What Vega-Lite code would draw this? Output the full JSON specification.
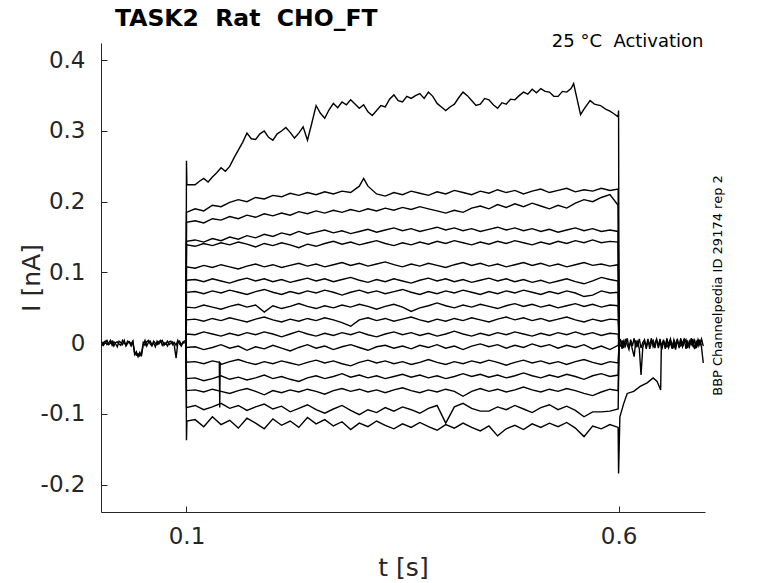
{
"$schema": "https://vega.github.io/schema/vega-lite/v6.json",
"width": 604, "height": 469,
"autosize": {"type": "none"},
"padding": {"left": 101, "top": 43, "right": 73, "bottom": 71},
"background": "white",
"config": {"view": {"stroke": null}, "font": "DejaVu Sans"},
"title": {"text": "TASK2\u00a0\u00a0Rat\u00a0\u00a0CHO_FT", "anchor": "start", "frame": "group", "fontSize": 23.5, "fontWeight": "bold", "font": "DejaVu Sans", "color": "#000000", "dx": 14, "offset": -16, "baseline": "alphabetic"},
"resolve": {"axis": {"y": "independent"}},
"layer": [
{
"data": {"values": [
{"s":"q1","t":0.002,"i":0.002},{"s":"q1","t":0.004,"i":-0.003},{"s":"q1","t":0.006,"i":0.001},{"s":"q1","t":0.008,"i":0.004},{"s":"q1","t":0.010,"i":-0.002},{"s":"q1","t":0.012,"i":0.000},{"s":"q1","t":0.014,"i":0.003},{"s":"q1","t":0.016,"i":-0.004},{"s":"q1","t":0.018,"i":0.001},{"s":"q1","t":0.020,"i":0.002},{"s":"q1","t":0.022,"i":-0.001},{"s":"q1","t":0.024,"i":-0.003},{"s":"q1","t":0.026,"i":0.004},{"s":"q1","t":0.028,"i":0.000},{"s":"q1","t":0.030,"i":-0.002},{"s":"q1","t":0.032,"i":0.003},{"s":"q1","t":0.034,"i":0.001},{"s":"q1","t":0.036,"i":-0.004},{"s":"q1","t":0.038,"i":0.002},{"s":"q1","t":0.040,"i":-0.013},{"s":"q1","t":0.042,"i":-0.017},{"s":"q1","t":0.044,"i":-0.015},{"s":"q1","t":0.046,"i":-0.018},{"s":"q1","t":0.048,"i":-0.014},{"s":"q1","t":0.050,"i":0.001},{"s":"q1","t":0.052,"i":-0.003},{"s":"q1","t":0.054,"i":0.002},{"s":"q1","t":0.056,"i":0.004},{"s":"q1","t":0.058,"i":-0.001},{"s":"q1","t":0.060,"i":-0.004},{"s":"q1","t":0.062,"i":0.003},{"s":"q1","t":0.064,"i":0.000},{"s":"q1","t":0.066,"i":-0.002},{"s":"q1","t":0.068,"i":0.002},{"s":"q1","t":0.070,"i":0.004},{"s":"q1","t":0.072,"i":-0.003},{"s":"q1","t":0.074,"i":0.001},{"s":"q1","t":0.076,"i":-0.001},{"s":"q1","t":0.078,"i":0.003},{"s":"q1","t":0.080,"i":-0.002},{"s":"q1","t":0.082,"i":0.000},{"s":"q1","t":0.084,"i":0.002},{"s":"q1","t":0.086,"i":-0.004},{"s":"q1","t":0.088,"i":-0.021},{"s":"q1","t":0.090,"i":0.001},{"s":"q1","t":0.092,"i":0.003},{"s":"q1","t":0.094,"i":-0.002},{"s":"q1","t":0.096,"i":0.000},{"s":"q1","t":0.098,"i":0.004},
{"s":"q2","t":0.002,"i":-0.004},{"s":"q2","t":0.004,"i":0.001},{"s":"q2","t":0.006,"i":0.003},{"s":"q2","t":0.008,"i":-0.002},{"s":"q2","t":0.010,"i":0.000},{"s":"q2","t":0.012,"i":0.004},{"s":"q2","t":0.014,"i":-0.003},{"s":"q2","t":0.016,"i":0.002},{"s":"q2","t":0.018,"i":-0.001},{"s":"q2","t":0.020,"i":-0.005},{"s":"q2","t":0.022,"i":0.003},{"s":"q2","t":0.024,"i":0.001},{"s":"q2","t":0.026,"i":-0.002},{"s":"q2","t":0.028,"i":0.004},{"s":"q2","t":0.030,"i":-0.004},{"s":"q2","t":0.032,"i":0.000},{"s":"q2","t":0.034,"i":0.002},{"s":"q2","t":0.036,"i":-0.001},{"s":"q2","t":0.038,"i":0.003},{"s":"q2","t":0.040,"i":-0.016},{"s":"q2","t":0.042,"i":-0.012},{"s":"q2","t":0.044,"i":-0.019},{"s":"q2","t":0.046,"i":-0.013},{"s":"q2","t":0.048,"i":-0.017},{"s":"q2","t":0.050,"i":-0.002},{"s":"q2","t":0.052,"i":0.004},{"s":"q2","t":0.054,"i":-0.004},{"s":"q2","t":0.056,"i":0.001},{"s":"q2","t":0.058,"i":0.003},{"s":"q2","t":0.060,"i":-0.002},{"s":"q2","t":0.062,"i":0.000},{"s":"q2","t":0.064,"i":-0.005},{"s":"q2","t":0.066,"i":0.003},{"s":"q2","t":0.068,"i":-0.001},{"s":"q2","t":0.070,"i":0.002},{"s":"q2","t":0.072,"i":0.004},{"s":"q2","t":0.074,"i":-0.003},{"s":"q2","t":0.076,"i":0.000},{"s":"q2","t":0.078,"i":-0.004},{"s":"q2","t":0.080,"i":0.002},{"s":"q2","t":0.082,"i":0.003},{"s":"q2","t":0.084,"i":-0.002},{"s":"q2","t":0.086,"i":0.001},{"s":"q2","t":0.088,"i":-0.003},{"s":"q2","t":0.090,"i":0.004},{"s":"q2","t":0.092,"i":-0.001},{"s":"q2","t":0.094,"i":-0.004},{"s":"q2","t":0.096,"i":0.002},{"s":"q2","t":0.098,"i":0.000},
{"s":"p1","t":0.602,"i":0.006},{"s":"p1","t":0.604,"i":-0.008},{"s":"p1","t":0.606,"i":0.003},{"s":"p1","t":0.608,"i":-0.004},{"s":"p1","t":0.610,"i":0.007},{"s":"p1","t":0.612,"i":-0.006},{"s":"p1","t":0.614,"i":0.002},{"s":"p1","t":0.616,"i":-0.009},{"s":"p1","t":0.618,"i":-0.019},{"s":"p1","t":0.620,"i":0.004},{"s":"p1","t":0.622,"i":-0.003},{"s":"p1","t":0.624,"i":0.006},{"s":"p1","t":0.626,"i":-0.007},{"s":"p1","t":0.628,"i":0.001},{"s":"p1","t":0.630,"i":0.005},{"s":"p1","t":0.632,"i":-0.008},{"s":"p1","t":0.634,"i":0.003},{"s":"p1","t":0.636,"i":-0.002},{"s":"p1","t":0.638,"i":0.007},{"s":"p1","t":0.640,"i":-0.005},{"s":"p1","t":0.642,"i":0.000},{"s":"p1","t":0.644,"i":0.006},{"s":"p1","t":0.646,"i":-0.007},{"s":"p1","t":0.648,"i":0.002},{"s":"p1","t":0.650,"i":-0.004},{"s":"p1","t":0.652,"i":0.005},{"s":"p1","t":0.654,"i":-0.008},{"s":"p1","t":0.656,"i":0.003},{"s":"p1","t":0.658,"i":-0.001},{"s":"p1","t":0.660,"i":0.006},{"s":"p1","t":0.662,"i":-0.006},{"s":"p1","t":0.664,"i":0.002},{"s":"p1","t":0.666,"i":-0.009},{"s":"p1","t":0.668,"i":0.004},{"s":"p1","t":0.670,"i":-0.003},{"s":"p1","t":0.672,"i":0.007},{"s":"p1","t":0.674,"i":-0.005},{"s":"p1","t":0.676,"i":0.001},{"s":"p1","t":0.678,"i":0.005},{"s":"p1","t":0.680,"i":-0.007},{"s":"p1","t":0.682,"i":0.003},{"s":"p1","t":0.684,"i":-0.002},{"s":"p1","t":0.686,"i":0.006},{"s":"p1","t":0.688,"i":-0.008},{"s":"p1","t":0.690,"i":0.002},{"s":"p1","t":0.692,"i":-0.004},{"s":"p1","t":0.694,"i":0.005},{"s":"p1","t":0.696,"i":-0.006},{"s":"p1","t":0.698,"i":-0.028},
{"s":"p2","t":0.602,"i":-0.005},{"s":"p2","t":0.604,"i":0.004},{"s":"p2","t":0.606,"i":-0.007},{"s":"p2","t":0.608,"i":0.006},{"s":"p2","t":0.610,"i":-0.002},{"s":"p2","t":0.612,"i":-0.009},{"s":"p2","t":0.614,"i":0.005},{"s":"p2","t":0.616,"i":-0.004},{"s":"p2","t":0.618,"i":0.007},{"s":"p2","t":0.620,"i":-0.006},{"s":"p2","t":0.622,"i":0.002},{"s":"p2","t":0.624,"i":-0.008},{"s":"p2","t":0.626,"i":-0.045},{"s":"p2","t":0.628,"i":-0.006},{"s":"p2","t":0.630,"i":0.003},{"s":"p2","t":0.632,"i":-0.005},{"s":"p2","t":0.634,"i":0.006},{"s":"p2","t":0.636,"i":-0.008},{"s":"p2","t":0.638,"i":0.001},{"s":"p2","t":0.640,"i":0.004},{"s":"p2","t":0.642,"i":-0.007},{"s":"p2","t":0.644,"i":0.005},{"s":"p2","t":0.646,"i":-0.003},{"s":"p2","t":0.648,"i":0.006},{"s":"p2","t":0.650,"i":-0.009},{"s":"p2","t":0.652,"i":0.002},{"s":"p2","t":0.654,"i":-0.004},{"s":"p2","t":0.656,"i":0.007},{"s":"p2","t":0.658,"i":-0.006},{"s":"p2","t":0.660,"i":0.001},{"s":"p2","t":0.662,"i":-0.008},{"s":"p2","t":0.664,"i":0.005},{"s":"p2","t":0.666,"i":-0.002},{"s":"p2","t":0.668,"i":0.006},{"s":"p2","t":0.670,"i":-0.007},{"s":"p2","t":0.672,"i":0.003},{"s":"p2","t":0.674,"i":-0.004},{"s":"p2","t":0.676,"i":0.006},{"s":"p2","t":0.678,"i":-0.008},{"s":"p2","t":0.680,"i":0.002},{"s":"p2","t":0.682,"i":-0.005},{"s":"p2","t":0.684,"i":0.007},{"s":"p2","t":0.686,"i":-0.003},{"s":"p2","t":0.688,"i":0.004},{"s":"p2","t":0.690,"i":-0.007},{"s":"p2","t":0.692,"i":0.005},{"s":"p2","t":0.694,"i":-0.002},{"s":"p2","t":0.696,"i":0.006},{"s":"p2","t":0.698,"i":-0.004},
{"s":"1","t":0.0995,"i":0.001},{"s":"1","t":0.1,"i":0.258},{"s":"1","t":0.1005,"i":0.224},{"s":"1","t":0.11,"i":0.224},{"s":"1","t":0.115,"i":0.229},{"s":"1","t":0.12,"i":0.233},{"s":"1","t":0.125,"i":0.228},{"s":"1","t":0.13,"i":0.235},{"s":"1","t":0.135,"i":0.241},{"s":"1","t":0.14,"i":0.248},{"s":"1","t":0.145,"i":0.243},{"s":"1","t":0.15,"i":0.250},{"s":"1","t":0.155,"i":0.262},{"s":"1","t":0.16,"i":0.273},{"s":"1","t":0.165,"i":0.284},{"s":"1","t":0.17,"i":0.297},{"s":"1","t":0.175,"i":0.289},{"s":"1","t":0.18,"i":0.288},{"s":"1","t":0.185,"i":0.296},{"s":"1","t":0.19,"i":0.300},{"s":"1","t":0.195,"i":0.291},{"s":"1","t":0.2,"i":0.287},{"s":"1","t":0.205,"i":0.296},{"s":"1","t":0.21,"i":0.300},{"s":"1","t":0.215,"i":0.305},{"s":"1","t":0.22,"i":0.298},{"s":"1","t":0.225,"i":0.290},{"s":"1","t":0.23,"i":0.297},{"s":"1","t":0.235,"i":0.306},{"s":"1","t":0.24,"i":0.287},{"s":"1","t":0.245,"i":0.311},{"s":"1","t":0.25,"i":0.336},{"s":"1","t":0.255,"i":0.325},{"s":"1","t":0.26,"i":0.318},{"s":"1","t":0.265,"i":0.330},{"s":"1","t":0.27,"i":0.339},{"s":"1","t":0.275,"i":0.333},{"s":"1","t":0.28,"i":0.341},{"s":"1","t":0.285,"i":0.337},{"s":"1","t":0.29,"i":0.344},{"s":"1","t":0.295,"i":0.338},{"s":"1","t":0.3,"i":0.332},{"s":"1","t":0.305,"i":0.337},{"s":"1","t":0.31,"i":0.327},{"s":"1","t":0.315,"i":0.322},{"s":"1","t":0.32,"i":0.329},{"s":"1","t":0.325,"i":0.336},{"s":"1","t":0.33,"i":0.334},{"s":"1","t":0.335,"i":0.345},{"s":"1","t":0.34,"i":0.351},{"s":"1","t":0.345,"i":0.343},{"s":"1","t":0.35,"i":0.341},{"s":"1","t":0.355,"i":0.349},{"s":"1","t":0.36,"i":0.346},{"s":"1","t":0.365,"i":0.350},{"s":"1","t":0.37,"i":0.353},{"s":"1","t":0.375,"i":0.346},{"s":"1","t":0.38,"i":0.355},{"s":"1","t":0.385,"i":0.349},{"s":"1","t":0.39,"i":0.339},{"s":"1","t":0.395,"i":0.334},{"s":"1","t":0.4,"i":0.329},{"s":"1","t":0.405,"i":0.334},{"s":"1","t":0.41,"i":0.338},{"s":"1","t":0.415,"i":0.347},{"s":"1","t":0.42,"i":0.355},{"s":"1","t":0.425,"i":0.350},{"s":"1","t":0.43,"i":0.343},{"s":"1","t":0.435,"i":0.336},{"s":"1","t":0.44,"i":0.338},{"s":"1","t":0.445,"i":0.346},{"s":"1","t":0.45,"i":0.344},{"s":"1","t":0.455,"i":0.337},{"s":"1","t":0.46,"i":0.332},{"s":"1","t":0.465,"i":0.340},{"s":"1","t":0.47,"i":0.338},{"s":"1","t":0.475,"i":0.345},{"s":"1","t":0.48,"i":0.344},{"s":"1","t":0.485,"i":0.350},{"s":"1","t":0.49,"i":0.355},{"s":"1","t":0.495,"i":0.352},{"s":"1","t":0.5,"i":0.359},{"s":"1","t":0.505,"i":0.354},{"s":"1","t":0.51,"i":0.360},{"s":"1","t":0.515,"i":0.356},{"s":"1","t":0.52,"i":0.355},{"s":"1","t":0.525,"i":0.349},{"s":"1","t":0.53,"i":0.349},{"s":"1","t":0.535,"i":0.356},{"s":"1","t":0.54,"i":0.355},{"s":"1","t":0.545,"i":0.360},{"s":"1","t":0.548,"i":0.367},{"s":"1","t":0.552,"i":0.345},{"s":"1","t":0.556,"i":0.323},{"s":"1","t":0.56,"i":0.331},{"s":"1","t":0.567,"i":0.343},{"s":"1","t":0.572,"i":0.338},{"s":"1","t":0.579,"i":0.336},{"s":"1","t":0.585,"i":0.331},{"s":"1","t":0.59,"i":0.328},{"s":"1","t":0.595,"i":0.324},{"s":"1","t":0.5995,"i":0.320},{"s":"1","t":0.6,"i":0.329},{"s":"1","t":0.6005,"i":0.002},
{"s":"2","t":0.0995,"i":-0.002},{"s":"2","t":0.1,"i":0.185},{"s":"2","t":0.11,"i":0.190},{"s":"2","t":0.12,"i":0.187},{"s":"2","t":0.13,"i":0.195},{"s":"2","t":0.14,"i":0.193},{"s":"2","t":0.15,"i":0.199},{"s":"2","t":0.16,"i":0.203},{"s":"2","t":0.17,"i":0.200},{"s":"2","t":0.18,"i":0.206},{"s":"2","t":0.19,"i":0.204},{"s":"2","t":0.2,"i":0.209},{"s":"2","t":0.21,"i":0.207},{"s":"2","t":0.22,"i":0.212},{"s":"2","t":0.23,"i":0.209},{"s":"2","t":0.24,"i":0.213},{"s":"2","t":0.25,"i":0.210},{"s":"2","t":0.26,"i":0.214},{"s":"2","t":0.27,"i":0.211},{"s":"2","t":0.28,"i":0.215},{"s":"2","t":0.29,"i":0.213},{"s":"2","t":0.3,"i":0.222},{"s":"2","t":0.305,"i":0.233},{"s":"2","t":0.31,"i":0.222},{"s":"2","t":0.32,"i":0.211},{"s":"2","t":0.33,"i":0.208},{"s":"2","t":0.34,"i":0.213},{"s":"2","t":0.35,"i":0.210},{"s":"2","t":0.36,"i":0.215},{"s":"2","t":0.37,"i":0.212},{"s":"2","t":0.38,"i":0.209},{"s":"2","t":0.39,"i":0.214},{"s":"2","t":0.4,"i":0.211},{"s":"2","t":0.41,"i":0.216},{"s":"2","t":0.42,"i":0.213},{"s":"2","t":0.43,"i":0.210},{"s":"2","t":0.44,"i":0.215},{"s":"2","t":0.45,"i":0.212},{"s":"2","t":0.46,"i":0.217},{"s":"2","t":0.47,"i":0.213},{"s":"2","t":0.48,"i":0.216},{"s":"2","t":0.49,"i":0.211},{"s":"2","t":0.5,"i":0.215},{"s":"2","t":0.51,"i":0.218},{"s":"2","t":0.52,"i":0.213},{"s":"2","t":0.53,"i":0.216},{"s":"2","t":0.54,"i":0.219},{"s":"2","t":0.55,"i":0.214},{"s":"2","t":0.56,"i":0.217},{"s":"2","t":0.57,"i":0.215},{"s":"2","t":0.58,"i":0.219},{"s":"2","t":0.59,"i":0.216},{"s":"2","t":0.5995,"i":0.218},{"s":"2","t":0.6005,"i":0.004},
{"s":"3","t":0.0995,"i":0.003},{"s":"3","t":0.1,"i":0.171},{"s":"3","t":0.11,"i":0.173},{"s":"3","t":0.12,"i":0.170},{"s":"3","t":0.13,"i":0.176},{"s":"3","t":0.14,"i":0.174},{"s":"3","t":0.15,"i":0.179},{"s":"3","t":0.16,"i":0.176},{"s":"3","t":0.17,"i":0.181},{"s":"3","t":0.18,"i":0.178},{"s":"3","t":0.19,"i":0.183},{"s":"3","t":0.2,"i":0.180},{"s":"3","t":0.21,"i":0.184},{"s":"3","t":0.22,"i":0.181},{"s":"3","t":0.23,"i":0.186},{"s":"3","t":0.24,"i":0.183},{"s":"3","t":0.25,"i":0.187},{"s":"3","t":0.26,"i":0.184},{"s":"3","t":0.27,"i":0.188},{"s":"3","t":0.28,"i":0.185},{"s":"3","t":0.29,"i":0.189},{"s":"3","t":0.3,"i":0.186},{"s":"3","t":0.31,"i":0.190},{"s":"3","t":0.32,"i":0.187},{"s":"3","t":0.33,"i":0.191},{"s":"3","t":0.34,"i":0.188},{"s":"3","t":0.35,"i":0.192},{"s":"3","t":0.36,"i":0.189},{"s":"3","t":0.37,"i":0.193},{"s":"3","t":0.38,"i":0.190},{"s":"3","t":0.39,"i":0.187},{"s":"3","t":0.4,"i":0.184},{"s":"3","t":0.41,"i":0.188},{"s":"3","t":0.42,"i":0.185},{"s":"3","t":0.43,"i":0.191},{"s":"3","t":0.44,"i":0.194},{"s":"3","t":0.45,"i":0.190},{"s":"3","t":0.46,"i":0.196},{"s":"3","t":0.47,"i":0.192},{"s":"3","t":0.48,"i":0.197},{"s":"3","t":0.49,"i":0.193},{"s":"3","t":0.5,"i":0.198},{"s":"3","t":0.51,"i":0.194},{"s":"3","t":0.52,"i":0.190},{"s":"3","t":0.53,"i":0.195},{"s":"3","t":0.54,"i":0.191},{"s":"3","t":0.55,"i":0.198},{"s":"3","t":0.56,"i":0.203},{"s":"3","t":0.57,"i":0.200},{"s":"3","t":0.58,"i":0.206},{"s":"3","t":0.59,"i":0.210},{"s":"3","t":0.5995,"i":0.195},{"s":"3","t":0.6005,"i":-0.005},
{"s":"4","t":0.0995,"i":-0.001},{"s":"4","t":0.1,"i":0.144},{"s":"4","t":0.11,"i":0.146},{"s":"4","t":0.12,"i":0.143},{"s":"4","t":0.13,"i":0.148},{"s":"4","t":0.14,"i":0.145},{"s":"4","t":0.15,"i":0.150},{"s":"4","t":0.16,"i":0.147},{"s":"4","t":0.17,"i":0.152},{"s":"4","t":0.18,"i":0.149},{"s":"4","t":0.19,"i":0.154},{"s":"4","t":0.2,"i":0.151},{"s":"4","t":0.21,"i":0.156},{"s":"4","t":0.22,"i":0.153},{"s":"4","t":0.23,"i":0.158},{"s":"4","t":0.24,"i":0.154},{"s":"4","t":0.25,"i":0.157},{"s":"4","t":0.26,"i":0.160},{"s":"4","t":0.27,"i":0.156},{"s":"4","t":0.28,"i":0.159},{"s":"4","t":0.29,"i":0.155},{"s":"4","t":0.3,"i":0.158},{"s":"4","t":0.31,"i":0.161},{"s":"4","t":0.32,"i":0.157},{"s":"4","t":0.33,"i":0.160},{"s":"4","t":0.34,"i":0.163},{"s":"4","t":0.35,"i":0.159},{"s":"4","t":0.36,"i":0.162},{"s":"4","t":0.37,"i":0.158},{"s":"4","t":0.38,"i":0.161},{"s":"4","t":0.39,"i":0.164},{"s":"4","t":0.4,"i":0.160},{"s":"4","t":0.41,"i":0.163},{"s":"4","t":0.42,"i":0.159},{"s":"4","t":0.43,"i":0.162},{"s":"4","t":0.44,"i":0.158},{"s":"4","t":0.45,"i":0.161},{"s":"4","t":0.46,"i":0.164},{"s":"4","t":0.47,"i":0.160},{"s":"4","t":0.48,"i":0.163},{"s":"4","t":0.49,"i":0.159},{"s":"4","t":0.5,"i":0.162},{"s":"4","t":0.51,"i":0.158},{"s":"4","t":0.52,"i":0.161},{"s":"4","t":0.53,"i":0.157},{"s":"4","t":0.54,"i":0.160},{"s":"4","t":0.55,"i":0.163},{"s":"4","t":0.56,"i":0.159},{"s":"4","t":0.57,"i":0.162},{"s":"4","t":0.58,"i":0.158},{"s":"4","t":0.59,"i":0.160},{"s":"4","t":0.5995,"i":0.158},{"s":"4","t":0.6005,"i":0.006},
{"s":"5","t":0.0995,"i":0.002},{"s":"5","t":0.1,"i":0.139},{"s":"5","t":0.11,"i":0.137},{"s":"5","t":0.12,"i":0.141},{"s":"5","t":0.13,"i":0.138},{"s":"5","t":0.14,"i":0.142},{"s":"5","t":0.15,"i":0.139},{"s":"5","t":0.16,"i":0.143},{"s":"5","t":0.17,"i":0.140},{"s":"5","t":0.18,"i":0.136},{"s":"5","t":0.19,"i":0.141},{"s":"5","t":0.2,"i":0.138},{"s":"5","t":0.21,"i":0.142},{"s":"5","t":0.22,"i":0.139},{"s":"5","t":0.23,"i":0.135},{"s":"5","t":0.24,"i":0.140},{"s":"5","t":0.25,"i":0.137},{"s":"5","t":0.26,"i":0.141},{"s":"5","t":0.27,"i":0.144},{"s":"5","t":0.28,"i":0.140},{"s":"5","t":0.29,"i":0.143},{"s":"5","t":0.3,"i":0.139},{"s":"5","t":0.31,"i":0.142},{"s":"5","t":0.32,"i":0.145},{"s":"5","t":0.33,"i":0.141},{"s":"5","t":0.34,"i":0.138},{"s":"5","t":0.35,"i":0.142},{"s":"5","t":0.36,"i":0.139},{"s":"5","t":0.37,"i":0.143},{"s":"5","t":0.38,"i":0.140},{"s":"5","t":0.39,"i":0.144},{"s":"5","t":0.4,"i":0.141},{"s":"5","t":0.41,"i":0.145},{"s":"5","t":0.42,"i":0.142},{"s":"5","t":0.43,"i":0.139},{"s":"5","t":0.44,"i":0.143},{"s":"5","t":0.45,"i":0.140},{"s":"5","t":0.46,"i":0.144},{"s":"5","t":0.47,"i":0.141},{"s":"5","t":0.48,"i":0.145},{"s":"5","t":0.49,"i":0.142},{"s":"5","t":0.5,"i":0.139},{"s":"5","t":0.51,"i":0.143},{"s":"5","t":0.52,"i":0.140},{"s":"5","t":0.53,"i":0.144},{"s":"5","t":0.54,"i":0.141},{"s":"5","t":0.55,"i":0.145},{"s":"5","t":0.56,"i":0.142},{"s":"5","t":0.57,"i":0.146},{"s":"5","t":0.58,"i":0.142},{"s":"5","t":0.59,"i":0.144},{"s":"5","t":0.5995,"i":0.143},{"s":"5","t":0.6005,"i":-0.003},
{"s":"6","t":0.0995,"i":-0.003},{"s":"6","t":0.1,"i":0.108},{"s":"6","t":0.11,"i":0.106},{"s":"6","t":0.12,"i":0.110},{"s":"6","t":0.13,"i":0.107},{"s":"6","t":0.14,"i":0.111},{"s":"6","t":0.15,"i":0.108},{"s":"6","t":0.16,"i":0.105},{"s":"6","t":0.17,"i":0.109},{"s":"6","t":0.18,"i":0.112},{"s":"6","t":0.19,"i":0.108},{"s":"6","t":0.2,"i":0.111},{"s":"6","t":0.21,"i":0.107},{"s":"6","t":0.22,"i":0.110},{"s":"6","t":0.23,"i":0.113},{"s":"6","t":0.24,"i":0.109},{"s":"6","t":0.25,"i":0.112},{"s":"6","t":0.26,"i":0.108},{"s":"6","t":0.27,"i":0.111},{"s":"6","t":0.28,"i":0.114},{"s":"6","t":0.29,"i":0.110},{"s":"6","t":0.3,"i":0.113},{"s":"6","t":0.31,"i":0.109},{"s":"6","t":0.32,"i":0.112},{"s":"6","t":0.33,"i":0.115},{"s":"6","t":0.34,"i":0.111},{"s":"6","t":0.35,"i":0.108},{"s":"6","t":0.36,"i":0.112},{"s":"6","t":0.37,"i":0.109},{"s":"6","t":0.38,"i":0.113},{"s":"6","t":0.39,"i":0.110},{"s":"6","t":0.4,"i":0.107},{"s":"6","t":0.41,"i":0.111},{"s":"6","t":0.42,"i":0.114},{"s":"6","t":0.43,"i":0.110},{"s":"6","t":0.44,"i":0.113},{"s":"6","t":0.45,"i":0.109},{"s":"6","t":0.46,"i":0.112},{"s":"6","t":0.47,"i":0.108},{"s":"6","t":0.48,"i":0.111},{"s":"6","t":0.49,"i":0.114},{"s":"6","t":0.5,"i":0.110},{"s":"6","t":0.51,"i":0.113},{"s":"6","t":0.52,"i":0.109},{"s":"6","t":0.53,"i":0.112},{"s":"6","t":0.54,"i":0.108},{"s":"6","t":0.55,"i":0.111},{"s":"6","t":0.56,"i":0.114},{"s":"6","t":0.57,"i":0.110},{"s":"6","t":0.58,"i":0.112},{"s":"6","t":0.59,"i":0.109},{"s":"6","t":0.5995,"i":0.111},{"s":"6","t":0.6005,"i":0.003},
{"s":"7","t":0.0995,"i":0.000},{"s":"7","t":0.1,"i":0.089},{"s":"7","t":0.11,"i":0.090},{"s":"7","t":0.12,"i":0.087},{"s":"7","t":0.13,"i":0.091},{"s":"7","t":0.14,"i":0.088},{"s":"7","t":0.15,"i":0.085},{"s":"7","t":0.16,"i":0.089},{"s":"7","t":0.17,"i":0.092},{"s":"7","t":0.18,"i":0.088},{"s":"7","t":0.19,"i":0.091},{"s":"7","t":0.2,"i":0.087},{"s":"7","t":0.21,"i":0.090},{"s":"7","t":0.22,"i":0.086},{"s":"7","t":0.23,"i":0.089},{"s":"7","t":0.24,"i":0.092},{"s":"7","t":0.25,"i":0.088},{"s":"7","t":0.26,"i":0.091},{"s":"7","t":0.27,"i":0.087},{"s":"7","t":0.28,"i":0.090},{"s":"7","t":0.29,"i":0.093},{"s":"7","t":0.3,"i":0.089},{"s":"7","t":0.31,"i":0.086},{"s":"7","t":0.32,"i":0.090},{"s":"7","t":0.33,"i":0.087},{"s":"7","t":0.34,"i":0.091},{"s":"7","t":0.35,"i":0.088},{"s":"7","t":0.36,"i":0.085},{"s":"7","t":0.37,"i":0.089},{"s":"7","t":0.38,"i":0.092},{"s":"7","t":0.39,"i":0.088},{"s":"7","t":0.4,"i":0.091},{"s":"7","t":0.41,"i":0.087},{"s":"7","t":0.42,"i":0.090},{"s":"7","t":0.43,"i":0.086},{"s":"7","t":0.44,"i":0.089},{"s":"7","t":0.45,"i":0.092},{"s":"7","t":0.46,"i":0.088},{"s":"7","t":0.47,"i":0.091},{"s":"7","t":0.48,"i":0.087},{"s":"7","t":0.49,"i":0.090},{"s":"7","t":0.5,"i":0.086},{"s":"7","t":0.51,"i":0.089},{"s":"7","t":0.52,"i":0.085},{"s":"7","t":0.53,"i":0.088},{"s":"7","t":0.54,"i":0.091},{"s":"7","t":0.55,"i":0.087},{"s":"7","t":0.56,"i":0.084},{"s":"7","t":0.57,"i":0.088},{"s":"7","t":0.58,"i":0.093},{"s":"7","t":0.59,"i":0.090},{"s":"7","t":0.5995,"i":0.088},{"s":"7","t":0.6005,"i":-0.006},
{"s":"8","t":0.0995,"i":0.001},{"s":"8","t":0.1,"i":0.072},{"s":"8","t":0.11,"i":0.073},{"s":"8","t":0.12,"i":0.070},{"s":"8","t":0.13,"i":0.074},{"s":"8","t":0.14,"i":0.071},{"s":"8","t":0.15,"i":0.075},{"s":"8","t":0.16,"i":0.072},{"s":"8","t":0.17,"i":0.069},{"s":"8","t":0.18,"i":0.073},{"s":"8","t":0.19,"i":0.076},{"s":"8","t":0.2,"i":0.072},{"s":"8","t":0.21,"i":0.069},{"s":"8","t":0.22,"i":0.073},{"s":"8","t":0.23,"i":0.070},{"s":"8","t":0.24,"i":0.074},{"s":"8","t":0.25,"i":0.071},{"s":"8","t":0.26,"i":0.075},{"s":"8","t":0.27,"i":0.072},{"s":"8","t":0.28,"i":0.068},{"s":"8","t":0.29,"i":0.072},{"s":"8","t":0.3,"i":0.075},{"s":"8","t":0.31,"i":0.071},{"s":"8","t":0.32,"i":0.074},{"s":"8","t":0.33,"i":0.070},{"s":"8","t":0.34,"i":0.073},{"s":"8","t":0.35,"i":0.076},{"s":"8","t":0.36,"i":0.072},{"s":"8","t":0.37,"i":0.069},{"s":"8","t":0.38,"i":0.073},{"s":"8","t":0.39,"i":0.070},{"s":"8","t":0.4,"i":0.074},{"s":"8","t":0.41,"i":0.071},{"s":"8","t":0.42,"i":0.075},{"s":"8","t":0.43,"i":0.072},{"s":"8","t":0.44,"i":0.069},{"s":"8","t":0.45,"i":0.073},{"s":"8","t":0.46,"i":0.070},{"s":"8","t":0.47,"i":0.074},{"s":"8","t":0.48,"i":0.071},{"s":"8","t":0.49,"i":0.075},{"s":"8","t":0.5,"i":0.072},{"s":"8","t":0.51,"i":0.069},{"s":"8","t":0.52,"i":0.073},{"s":"8","t":0.53,"i":0.070},{"s":"8","t":0.54,"i":0.074},{"s":"8","t":0.55,"i":0.071},{"s":"8","t":0.56,"i":0.066},{"s":"8","t":0.57,"i":0.068},{"s":"8","t":0.58,"i":0.074},{"s":"8","t":0.59,"i":0.071},{"s":"8","t":0.5995,"i":0.072},{"s":"8","t":0.6005,"i":0.005},
{"s":"9","t":0.0995,"i":-0.002},{"s":"9","t":0.1,"i":0.051},{"s":"9","t":0.11,"i":0.050},{"s":"9","t":0.12,"i":0.054},{"s":"9","t":0.13,"i":0.051},{"s":"9","t":0.14,"i":0.048},{"s":"9","t":0.15,"i":0.052},{"s":"9","t":0.16,"i":0.055},{"s":"9","t":0.17,"i":0.051},{"s":"9","t":0.18,"i":0.054},{"s":"9","t":0.19,"i":0.044},{"s":"9","t":0.2,"i":0.053},{"s":"9","t":0.21,"i":0.049},{"s":"9","t":0.22,"i":0.052},{"s":"9","t":0.23,"i":0.056},{"s":"9","t":0.24,"i":0.052},{"s":"9","t":0.25,"i":0.049},{"s":"9","t":0.26,"i":0.053},{"s":"9","t":0.27,"i":0.050},{"s":"9","t":0.28,"i":0.054},{"s":"9","t":0.29,"i":0.051},{"s":"9","t":0.3,"i":0.055},{"s":"9","t":0.31,"i":0.052},{"s":"9","t":0.32,"i":0.048},{"s":"9","t":0.33,"i":0.052},{"s":"9","t":0.34,"i":0.055},{"s":"9","t":0.35,"i":0.051},{"s":"9","t":0.36,"i":0.045},{"s":"9","t":0.37,"i":0.050},{"s":"9","t":0.38,"i":0.053},{"s":"9","t":0.39,"i":0.057},{"s":"9","t":0.4,"i":0.053},{"s":"9","t":0.41,"i":0.050},{"s":"9","t":0.42,"i":0.054},{"s":"9","t":0.43,"i":0.051},{"s":"9","t":0.44,"i":0.055},{"s":"9","t":0.45,"i":0.052},{"s":"9","t":0.46,"i":0.049},{"s":"9","t":0.47,"i":0.053},{"s":"9","t":0.48,"i":0.056},{"s":"9","t":0.49,"i":0.052},{"s":"9","t":0.5,"i":0.055},{"s":"9","t":0.51,"i":0.051},{"s":"9","t":0.52,"i":0.054},{"s":"9","t":0.53,"i":0.050},{"s":"9","t":0.54,"i":0.053},{"s":"9","t":0.55,"i":0.056},{"s":"9","t":0.56,"i":0.052},{"s":"9","t":0.57,"i":0.055},{"s":"9","t":0.58,"i":0.051},{"s":"9","t":0.59,"i":0.054},{"s":"9","t":0.5995,"i":0.053},{"s":"9","t":0.6005,"i":-0.004},
{"s":"10","t":0.0995,"i":0.002},{"s":"10","t":0.1,"i":0.033},{"s":"10","t":0.11,"i":0.034},{"s":"10","t":0.12,"i":0.031},{"s":"10","t":0.13,"i":0.035},{"s":"10","t":0.14,"i":0.032},{"s":"10","t":0.15,"i":0.036},{"s":"10","t":0.16,"i":0.033},{"s":"10","t":0.17,"i":0.030},{"s":"10","t":0.18,"i":0.034},{"s":"10","t":0.19,"i":0.037},{"s":"10","t":0.2,"i":0.033},{"s":"10","t":0.21,"i":0.030},{"s":"10","t":0.22,"i":0.034},{"s":"10","t":0.23,"i":0.031},{"s":"10","t":0.24,"i":0.035},{"s":"10","t":0.25,"i":0.032},{"s":"10","t":0.26,"i":0.036},{"s":"10","t":0.27,"i":0.033},{"s":"10","t":0.28,"i":0.029},{"s":"10","t":0.29,"i":0.024},{"s":"10","t":0.3,"i":0.033},{"s":"10","t":0.31,"i":0.036},{"s":"10","t":0.32,"i":0.032},{"s":"10","t":0.33,"i":0.035},{"s":"10","t":0.34,"i":0.031},{"s":"10","t":0.35,"i":0.034},{"s":"10","t":0.36,"i":0.037},{"s":"10","t":0.37,"i":0.033},{"s":"10","t":0.38,"i":0.030},{"s":"10","t":0.39,"i":0.034},{"s":"10","t":0.4,"i":0.031},{"s":"10","t":0.41,"i":0.035},{"s":"10","t":0.42,"i":0.032},{"s":"10","t":0.43,"i":0.036},{"s":"10","t":0.44,"i":0.033},{"s":"10","t":0.45,"i":0.030},{"s":"10","t":0.46,"i":0.034},{"s":"10","t":0.47,"i":0.037},{"s":"10","t":0.48,"i":0.033},{"s":"10","t":0.49,"i":0.036},{"s":"10","t":0.5,"i":0.032},{"s":"10","t":0.51,"i":0.035},{"s":"10","t":0.52,"i":0.031},{"s":"10","t":0.53,"i":0.034},{"s":"10","t":0.54,"i":0.037},{"s":"10","t":0.55,"i":0.033},{"s":"10","t":0.56,"i":0.030},{"s":"10","t":0.57,"i":0.034},{"s":"10","t":0.58,"i":0.031},{"s":"10","t":0.59,"i":0.034},{"s":"10","t":0.5995,"i":0.033},{"s":"10","t":0.6005,"i":0.002},
{"s":"11","t":0.0995,"i":-0.001},{"s":"11","t":0.1,"i":0.013},{"s":"11","t":0.11,"i":0.012},{"s":"11","t":0.12,"i":0.016},{"s":"11","t":0.13,"i":0.013},{"s":"11","t":0.14,"i":0.010},{"s":"11","t":0.15,"i":0.014},{"s":"11","t":0.16,"i":0.011},{"s":"11","t":0.17,"i":0.015},{"s":"11","t":0.18,"i":0.012},{"s":"11","t":0.19,"i":0.016},{"s":"11","t":0.2,"i":0.013},{"s":"11","t":0.21,"i":0.009},{"s":"11","t":0.22,"i":0.013},{"s":"11","t":0.23,"i":0.017},{"s":"11","t":0.24,"i":0.013},{"s":"11","t":0.25,"i":0.010},{"s":"11","t":0.26,"i":0.014},{"s":"11","t":0.27,"i":0.011},{"s":"11","t":0.28,"i":0.015},{"s":"11","t":0.29,"i":0.012},{"s":"11","t":0.3,"i":0.016},{"s":"11","t":0.31,"i":0.012},{"s":"11","t":0.32,"i":0.009},{"s":"11","t":0.33,"i":0.013},{"s":"11","t":0.34,"i":0.016},{"s":"11","t":0.35,"i":0.012},{"s":"11","t":0.36,"i":0.015},{"s":"11","t":0.37,"i":0.011},{"s":"11","t":0.38,"i":0.014},{"s":"11","t":0.39,"i":0.010},{"s":"11","t":0.4,"i":0.013},{"s":"11","t":0.41,"i":0.017},{"s":"11","t":0.42,"i":0.013},{"s":"11","t":0.43,"i":0.010},{"s":"11","t":0.44,"i":0.014},{"s":"11","t":0.45,"i":0.011},{"s":"11","t":0.46,"i":0.015},{"s":"11","t":0.47,"i":0.012},{"s":"11","t":0.48,"i":0.016},{"s":"11","t":0.49,"i":0.013},{"s":"11","t":0.5,"i":0.010},{"s":"11","t":0.51,"i":0.014},{"s":"11","t":0.52,"i":0.011},{"s":"11","t":0.53,"i":0.015},{"s":"11","t":0.54,"i":0.012},{"s":"11","t":0.55,"i":0.016},{"s":"11","t":0.56,"i":0.012},{"s":"11","t":0.57,"i":0.015},{"s":"11","t":0.58,"i":0.011},{"s":"11","t":0.59,"i":0.014},{"s":"11","t":0.5995,"i":0.013},{"s":"11","t":0.6005,"i":-0.007},
{"s":"12","t":0.0995,"i":0.003},{"s":"12","t":0.1,"i":-0.006},{"s":"12","t":0.11,"i":-0.005},{"s":"12","t":0.12,"i":-0.009},{"s":"12","t":0.13,"i":-0.006},{"s":"12","t":0.14,"i":-0.002},{"s":"12","t":0.15,"i":-0.007},{"s":"12","t":0.16,"i":-0.004},{"s":"12","t":0.17,"i":-0.010},{"s":"12","t":0.18,"i":-0.005},{"s":"12","t":0.19,"i":-0.008},{"s":"12","t":0.2,"i":-0.003},{"s":"12","t":0.21,"i":-0.007},{"s":"12","t":0.22,"i":-0.011},{"s":"12","t":0.23,"i":-0.006},{"s":"12","t":0.24,"i":-0.002},{"s":"12","t":0.25,"i":-0.007},{"s":"12","t":0.26,"i":-0.004},{"s":"12","t":0.27,"i":-0.009},{"s":"12","t":0.28,"i":-0.005},{"s":"12","t":0.29,"i":-0.002},{"s":"12","t":0.3,"i":-0.006},{"s":"12","t":0.31,"i":-0.010},{"s":"12","t":0.32,"i":-0.005},{"s":"12","t":0.33,"i":-0.003},{"s":"12","t":0.34,"i":-0.007},{"s":"12","t":0.35,"i":-0.004},{"s":"12","t":0.36,"i":-0.008},{"s":"12","t":0.37,"i":-0.003},{"s":"12","t":0.38,"i":-0.006},{"s":"12","t":0.39,"i":-0.002},{"s":"12","t":0.4,"i":-0.007},{"s":"12","t":0.41,"i":-0.004},{"s":"12","t":0.42,"i":-0.009},{"s":"12","t":0.43,"i":-0.004},{"s":"12","t":0.44,"i":-0.001},{"s":"12","t":0.45,"i":-0.005},{"s":"12","t":0.46,"i":-0.002},{"s":"12","t":0.47,"i":-0.007},{"s":"12","t":0.48,"i":-0.003},{"s":"12","t":0.49,"i":-0.006},{"s":"12","t":0.5,"i":-0.001},{"s":"12","t":0.51,"i":-0.005},{"s":"12","t":0.52,"i":-0.002},{"s":"12","t":0.53,"i":-0.007},{"s":"12","t":0.54,"i":-0.003},{"s":"12","t":0.55,"i":-0.006},{"s":"12","t":0.56,"i":-0.002},{"s":"12","t":0.57,"i":-0.008},{"s":"12","t":0.58,"i":-0.004},{"s":"12","t":0.59,"i":-0.009},{"s":"12","t":0.5995,"i":-0.003},{"s":"12","t":0.6005,"i":0.006},
{"s":"13","t":0.0995,"i":-0.004},{"s":"13","t":0.1,"i":-0.027},{"s":"13","t":0.11,"i":-0.026},{"s":"13","t":0.12,"i":-0.029},{"s":"13","t":0.13,"i":-0.025},{"s":"13","t":0.138,"i":-0.027},{"s":"13","t":0.1385,"i":-0.091},{"s":"13","t":0.139,"i":-0.028},{"s":"13","t":0.14,"i":-0.030},{"s":"13","t":0.15,"i":-0.026},{"s":"13","t":0.16,"i":-0.023},{"s":"13","t":0.17,"i":-0.027},{"s":"13","t":0.18,"i":-0.030},{"s":"13","t":0.19,"i":-0.026},{"s":"13","t":0.2,"i":-0.029},{"s":"13","t":0.21,"i":-0.025},{"s":"13","t":0.22,"i":-0.028},{"s":"13","t":0.23,"i":-0.031},{"s":"13","t":0.24,"i":-0.027},{"s":"13","t":0.25,"i":-0.024},{"s":"13","t":0.26,"i":-0.028},{"s":"13","t":0.27,"i":-0.025},{"s":"13","t":0.28,"i":-0.029},{"s":"13","t":0.29,"i":-0.032},{"s":"13","t":0.3,"i":-0.027},{"s":"13","t":0.31,"i":-0.024},{"s":"13","t":0.32,"i":-0.028},{"s":"13","t":0.33,"i":-0.025},{"s":"13","t":0.34,"i":-0.029},{"s":"13","t":0.35,"i":-0.026},{"s":"13","t":0.36,"i":-0.030},{"s":"13","t":0.37,"i":-0.027},{"s":"13","t":0.38,"i":-0.023},{"s":"13","t":0.39,"i":-0.027},{"s":"13","t":0.4,"i":-0.030},{"s":"13","t":0.41,"i":-0.026},{"s":"13","t":0.42,"i":-0.029},{"s":"13","t":0.43,"i":-0.025},{"s":"13","t":0.44,"i":-0.028},{"s":"13","t":0.45,"i":-0.024},{"s":"13","t":0.46,"i":-0.027},{"s":"13","t":0.47,"i":-0.031},{"s":"13","t":0.48,"i":-0.027},{"s":"13","t":0.49,"i":-0.024},{"s":"13","t":0.5,"i":-0.028},{"s":"13","t":0.51,"i":-0.025},{"s":"13","t":0.52,"i":-0.029},{"s":"13","t":0.53,"i":-0.026},{"s":"13","t":0.54,"i":-0.030},{"s":"13","t":0.55,"i":-0.026},{"s":"13","t":0.56,"i":-0.023},{"s":"13","t":0.57,"i":-0.027},{"s":"13","t":0.58,"i":-0.030},{"s":"13","t":0.59,"i":-0.026},{"s":"13","t":0.5995,"i":-0.028},{"s":"13","t":0.6005,"i":-0.002},
{"s":"14","t":0.0995,"i":0.001},{"s":"14","t":0.1,"i":-0.050},{"s":"14","t":0.11,"i":-0.049},{"s":"14","t":0.12,"i":-0.053},{"s":"14","t":0.13,"i":-0.050},{"s":"14","t":0.14,"i":-0.046},{"s":"14","t":0.15,"i":-0.051},{"s":"14","t":0.16,"i":-0.048},{"s":"14","t":0.17,"i":-0.052},{"s":"14","t":0.18,"i":-0.049},{"s":"14","t":0.19,"i":-0.045},{"s":"14","t":0.2,"i":-0.050},{"s":"14","t":0.21,"i":-0.047},{"s":"14","t":0.22,"i":-0.051},{"s":"14","t":0.23,"i":-0.054},{"s":"14","t":0.24,"i":-0.049},{"s":"14","t":0.25,"i":-0.046},{"s":"14","t":0.26,"i":-0.050},{"s":"14","t":0.27,"i":-0.047},{"s":"14","t":0.28,"i":-0.043},{"s":"14","t":0.29,"i":-0.048},{"s":"14","t":0.3,"i":-0.045},{"s":"14","t":0.31,"i":-0.049},{"s":"14","t":0.32,"i":-0.046},{"s":"14","t":0.33,"i":-0.050},{"s":"14","t":0.34,"i":-0.047},{"s":"14","t":0.35,"i":-0.044},{"s":"14","t":0.36,"i":-0.048},{"s":"14","t":0.37,"i":-0.045},{"s":"14","t":0.38,"i":-0.049},{"s":"14","t":0.39,"i":-0.046},{"s":"14","t":0.4,"i":-0.050},{"s":"14","t":0.41,"i":-0.047},{"s":"14","t":0.42,"i":-0.043},{"s":"14","t":0.43,"i":-0.047},{"s":"14","t":0.44,"i":-0.044},{"s":"14","t":0.45,"i":-0.048},{"s":"14","t":0.46,"i":-0.045},{"s":"14","t":0.47,"i":-0.049},{"s":"14","t":0.48,"i":-0.046},{"s":"14","t":0.49,"i":-0.042},{"s":"14","t":0.5,"i":-0.046},{"s":"14","t":0.51,"i":-0.049},{"s":"14","t":0.52,"i":-0.045},{"s":"14","t":0.53,"i":-0.048},{"s":"14","t":0.54,"i":-0.044},{"s":"14","t":0.55,"i":-0.047},{"s":"14","t":0.56,"i":-0.051},{"s":"14","t":0.57,"i":-0.046},{"s":"14","t":0.58,"i":-0.043},{"s":"14","t":0.59,"i":-0.047},{"s":"14","t":0.5995,"i":-0.045},{"s":"14","t":0.6005,"i":0.004},
{"s":"15","t":0.0995,"i":-0.002},{"s":"15","t":0.1,"i":-0.067},{"s":"15","t":0.11,"i":-0.066},{"s":"15","t":0.12,"i":-0.069},{"s":"15","t":0.13,"i":-0.065},{"s":"15","t":0.14,"i":-0.068},{"s":"15","t":0.15,"i":-0.071},{"s":"15","t":0.16,"i":-0.067},{"s":"15","t":0.17,"i":-0.064},{"s":"15","t":0.18,"i":-0.068},{"s":"15","t":0.19,"i":-0.073},{"s":"15","t":0.2,"i":-0.067},{"s":"15","t":0.21,"i":-0.070},{"s":"15","t":0.22,"i":-0.066},{"s":"15","t":0.23,"i":-0.069},{"s":"15","t":0.24,"i":-0.065},{"s":"15","t":0.25,"i":-0.068},{"s":"15","t":0.26,"i":-0.072},{"s":"15","t":0.27,"i":-0.067},{"s":"15","t":0.28,"i":-0.064},{"s":"15","t":0.29,"i":-0.068},{"s":"15","t":0.3,"i":-0.065},{"s":"15","t":0.31,"i":-0.069},{"s":"15","t":0.32,"i":-0.066},{"s":"15","t":0.33,"i":-0.070},{"s":"15","t":0.34,"i":-0.066},{"s":"15","t":0.35,"i":-0.063},{"s":"15","t":0.36,"i":-0.067},{"s":"15","t":0.37,"i":-0.070},{"s":"15","t":0.38,"i":-0.066},{"s":"15","t":0.39,"i":-0.069},{"s":"15","t":0.4,"i":-0.065},{"s":"15","t":0.41,"i":-0.068},{"s":"15","t":0.42,"i":-0.075},{"s":"15","t":0.43,"i":-0.068},{"s":"15","t":0.44,"i":-0.064},{"s":"15","t":0.45,"i":-0.068},{"s":"15","t":0.46,"i":-0.065},{"s":"15","t":0.47,"i":-0.069},{"s":"15","t":0.48,"i":-0.066},{"s":"15","t":0.49,"i":-0.062},{"s":"15","t":0.5,"i":-0.066},{"s":"15","t":0.51,"i":-0.069},{"s":"15","t":0.52,"i":-0.065},{"s":"15","t":0.53,"i":-0.068},{"s":"15","t":0.54,"i":-0.064},{"s":"15","t":0.55,"i":-0.067},{"s":"15","t":0.56,"i":-0.071},{"s":"15","t":0.57,"i":-0.074},{"s":"15","t":0.58,"i":-0.069},{"s":"15","t":0.59,"i":-0.065},{"s":"15","t":0.5995,"i":-0.067},{"s":"15","t":0.6005,"i":-0.005},
{"s":"16","t":0.0995,"i":0.002},{"s":"16","t":0.1,"i":-0.091},{"s":"16","t":0.11,"i":-0.088},{"s":"16","t":0.12,"i":-0.094},{"s":"16","t":0.13,"i":-0.090},{"s":"16","t":0.14,"i":-0.085},{"s":"16","t":0.15,"i":-0.092},{"s":"16","t":0.16,"i":-0.088},{"s":"16","t":0.17,"i":-0.095},{"s":"16","t":0.18,"i":-0.090},{"s":"16","t":0.19,"i":-0.086},{"s":"16","t":0.2,"i":-0.093},{"s":"16","t":0.21,"i":-0.089},{"s":"16","t":0.22,"i":-0.097},{"s":"16","t":0.23,"i":-0.092},{"s":"16","t":0.24,"i":-0.087},{"s":"16","t":0.25,"i":-0.094},{"s":"16","t":0.26,"i":-0.099},{"s":"16","t":0.27,"i":-0.093},{"s":"16","t":0.28,"i":-0.088},{"s":"16","t":0.29,"i":-0.095},{"s":"16","t":0.3,"i":-0.101},{"s":"16","t":0.31,"i":-0.094},{"s":"16","t":0.32,"i":-0.098},{"s":"16","t":0.33,"i":-0.091},{"s":"16","t":0.34,"i":-0.096},{"s":"16","t":0.35,"i":-0.090},{"s":"16","t":0.36,"i":-0.094},{"s":"16","t":0.37,"i":-0.099},{"s":"16","t":0.38,"i":-0.092},{"s":"16","t":0.39,"i":-0.088},{"s":"16","t":0.4,"i":-0.113},{"s":"16","t":0.41,"i":-0.090},{"s":"16","t":0.42,"i":-0.085},{"s":"16","t":0.43,"i":-0.092},{"s":"16","t":0.44,"i":-0.096},{"s":"16","t":0.45,"i":-0.096},{"s":"16","t":0.46,"i":-0.090},{"s":"16","t":0.47,"i":-0.094},{"s":"16","t":0.48,"i":-0.088},{"s":"16","t":0.49,"i":-0.093},{"s":"16","t":0.5,"i":-0.098},{"s":"16","t":0.51,"i":-0.091},{"s":"16","t":0.52,"i":-0.087},{"s":"16","t":0.53,"i":-0.094},{"s":"16","t":0.54,"i":-0.089},{"s":"16","t":0.55,"i":-0.095},{"s":"16","t":0.56,"i":-0.104},{"s":"16","t":0.57,"i":-0.097},{"s":"16","t":0.58,"i":-0.097},{"s":"16","t":0.59,"i":-0.096},{"s":"16","t":0.5995,"i":-0.093},{"s":"16","t":0.6005,"i":-0.008},
{"s":"17","t":0.0995,"i":-0.002},{"s":"17","t":0.1,"i":-0.137},{"s":"17","t":0.1005,"i":-0.110},{"s":"17","t":0.11,"i":-0.108},{"s":"17","t":0.12,"i":-0.118},{"s":"17","t":0.13,"i":-0.104},{"s":"17","t":0.14,"i":-0.115},{"s":"17","t":0.15,"i":-0.109},{"s":"17","t":0.16,"i":-0.120},{"s":"17","t":0.17,"i":-0.106},{"s":"17","t":0.18,"i":-0.113},{"s":"17","t":0.19,"i":-0.121},{"s":"17","t":0.2,"i":-0.107},{"s":"17","t":0.21,"i":-0.116},{"s":"17","t":0.22,"i":-0.110},{"s":"17","t":0.23,"i":-0.119},{"s":"17","t":0.24,"i":-0.105},{"s":"17","t":0.25,"i":-0.114},{"s":"17","t":0.26,"i":-0.108},{"s":"17","t":0.27,"i":-0.117},{"s":"17","t":0.28,"i":-0.111},{"s":"17","t":0.29,"i":-0.122},{"s":"17","t":0.3,"i":-0.113},{"s":"17","t":0.31,"i":-0.118},{"s":"17","t":0.32,"i":-0.110},{"s":"17","t":0.33,"i":-0.116},{"s":"17","t":0.34,"i":-0.121},{"s":"17","t":0.35,"i":-0.114},{"s":"17","t":0.36,"i":-0.119},{"s":"17","t":0.37,"i":-0.112},{"s":"17","t":0.38,"i":-0.118},{"s":"17","t":0.39,"i":-0.123},{"s":"17","t":0.4,"i":-0.115},{"s":"17","t":0.41,"i":-0.120},{"s":"17","t":0.42,"i":-0.113},{"s":"17","t":0.43,"i":-0.119},{"s":"17","t":0.44,"i":-0.124},{"s":"17","t":0.45,"i":-0.117},{"s":"17","t":0.46,"i":-0.131},{"s":"17","t":0.47,"i":-0.121},{"s":"17","t":0.48,"i":-0.116},{"s":"17","t":0.49,"i":-0.122},{"s":"17","t":0.5,"i":-0.114},{"s":"17","t":0.51,"i":-0.119},{"s":"17","t":0.52,"i":-0.113},{"s":"17","t":0.53,"i":-0.118},{"s":"17","t":0.54,"i":-0.112},{"s":"17","t":0.55,"i":-0.120},{"s":"17","t":0.56,"i":-0.132},{"s":"17","t":0.57,"i":-0.117},{"s":"17","t":0.58,"i":-0.121},{"s":"17","t":0.59,"i":-0.115},{"s":"17","t":0.5995,"i":-0.119},{"s":"17","t":0.6,"i":-0.184},{"s":"17","t":0.6015,"i":-0.104},{"s":"17","t":0.606,"i":-0.085},{"s":"17","t":0.61,"i":-0.071},{"s":"17","t":0.6175,"i":-0.068},{"s":"17","t":0.625,"i":-0.061},{"s":"17","t":0.633,"i":-0.056},{"s":"17","t":0.64,"i":-0.049},{"s":"17","t":0.6446,"i":-0.054},{"s":"17","t":0.6487,"i":-0.066},{"s":"17","t":0.6495,"i":-0.002},{"s":"17","t":0.652,"i":0.003},{"s":"17","t":0.656,"i":-0.005},{"s":"17","t":0.66,"i":0.004},{"s":"17","t":0.664,"i":-0.006},{"s":"17","t":0.668,"i":0.002},{"s":"17","t":0.672,"i":-0.004},{"s":"17","t":0.676,"i":0.006},{"s":"17","t":0.68,"i":-0.003},{"s":"17","t":0.684,"i":0.001},{"s":"17","t":0.688,"i":-0.007},{"s":"17","t":0.692,"i":0.004},{"s":"17","t":0.696,"i":-0.002}
]},
"mark": {"type": "line", "color": "#000000", "strokeWidth": 1.4, "clip": true},
"encoding": {
"x": {"field": "t", "type": "quantitative", "scale": {"domain": [0.0011, 0.7], "nice": false, "zero": false},
"axis": {"values": [0.1, 0.6], "format": ".1f", "title": "t [s]", "grid": false, "tickSize": -6, "labelPadding": 19, "labelFontSize": 23, "labelColor": "#262626", "labelFont": "DejaVu Sans", "labelFlush": false, "labelOverlap": false, "titleFont": "DejaVu Sans", "titleFontSize": 25, "titleFontWeight": "normal", "titleColor": "#262626", "titleX": 302, "titleY": 55, "titleAlign": "center", "titleBaseline": "middle", "domainColor": "#262626", "tickColor": "#262626"}},
"y": {"field": "i", "type": "quantitative", "scale": {"domain": [-0.2386, 0.4244], "nice": false, "zero": false},
"axis": {"values": [-0.2, -0.1, 0, 0.1, 0.2, 0.3, 0.4], "labelExpr": "datum.value == 0 ? '0' : replace(format(datum.value, '.1f'), '−', '-')", "title": "I [nA]", "grid": false, "tickSize": -6, "labelPadding": 22, "labelFontSize": 23, "labelColor": "#262626", "labelFont": "DejaVu Sans", "labelFlush": false, "labelOverlap": false, "titleFont": "DejaVu Sans", "titleFontSize": 25, "titleFontWeight": "normal", "titleColor": "#262626", "titleX": -70, "titleY": 234.5, "titleAngle": 270, "titleAlign": "center", "titleBaseline": "middle", "domainColor": "#262626", "tickColor": "#262626"}},
"detail": {"field": "s", "type": "nominal"}
}
},
{
"data": {"values": [{"lab": "25 °C\u00a0\u00a0Activation"}]},
"mark": {"type": "text", "align": "right", "baseline": "alphabetic", "fontSize": 18, "font": "DejaVu Sans", "color": "#000000"},
"encoding": {
"x": {"datum": 0.6983, "type": "quantitative"},
"y": {"datum": 0.4183, "type": "quantitative", "axis": {"orient": "right", "title": "BBP Channelpedia ID 29174 rep 2", "labels": false, "ticks": false, "domain": false, "grid": false, "titleAngle": 270, "titleX": 12, "titleY": 242, "titleAlign": "center", "titleBaseline": "middle", "titleFontSize": 13, "titleFontWeight": "normal", "titleColor": "#000000", "titleFont": "DejaVu Sans"}},
"text": {"field": "lab"}
}
}
]
}
